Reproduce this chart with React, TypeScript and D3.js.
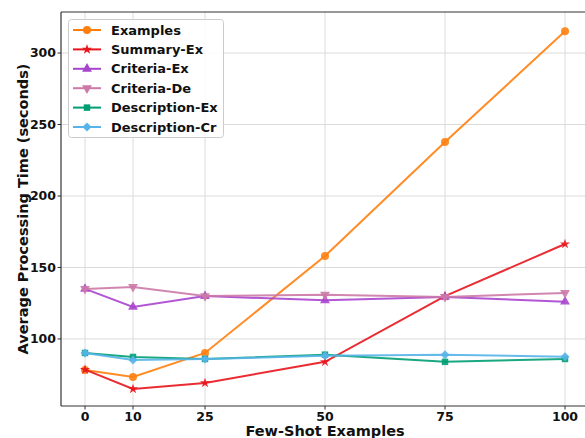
import React, { useEffect, useRef } from 'react';
import * as d3 from 'd3';

const shots = [0, 10, 25, 50, 75, 100];
const yTicks = [100, 150, 200, 250, 300];

const examples = [78.3, 73.4, 90.2, 158, 237.8, 315.2];
const summaryEx = [78.5, 65, 69.2, 84, 130, 166.4];
const criteriaEx = [135, 122.4, 130, 127, 129.4, 126];
const criteriaDe = [135, 136.4, 130, 131, 129.4, 132.2];
const descriptionEx = [90.2, 87.4, 86, 89, 84, 86];
const descriptionCr = [90.2, 85.3, 86, 88.2, 88.9, 87.6];

const seriesNames = ['Examples', 'Summary-Ex', 'Criteria-Ex', 'Criteria-De', 'Description-Ex', 'Description-Cr'];
const seriesValues = [examples, summaryEx, criteriaEx, criteriaDe, descriptionEx, descriptionCr];
const colors = ['#ff7f0e', '#e8141c', '#a845cf', '#cc79a7', '#009e73', '#56b4e9'];
const markers = ['circle', 'star', 'triUp', 'triDown', 'square', 'diamond'];

const W = 585;
const H = 438;

// marker shapes roughly matching matplotlib's o * ^ v s D
const markerSymbol = (m: string) => {
  switch (m) {
    case 'star': return d3.symbol(d3.symbolStar, 32)();
    case 'square': return d3.symbol(d3.symbolSquare, 42)();
    case 'diamond': return d3.symbol(d3.symbolSquare, 40)();
    case 'triUp': return d3.symbol(d3.symbolTriangle, 42)();
    case 'triDown': return d3.symbol(d3.symbolTriangle, 42)();
    default: return d3.symbol(d3.symbolCircle, 50)();
  }
};
const markerRot = (m: string) => (m === 'triDown' ? 180 : m === 'diamond' ? 45 : 0);

const App: React.FC = () => {
  const svgRef = useRef<SVGSVGElement>(null);

  useEffect(() => {
    if (!svgRef.current) return;
    const svg = d3.select(svgRef.current);
    svg.selectAll('*').remove();

    const left = 61, right = 589, top = 12, bottom = 406;
    const x = d3.scaleLinear().domain([-5, 105]).range([left, right]);
    const y = d3.scaleLinear().domain([53.1, 328.7]).range([bottom, top]);
    const font = "'DejaVu Sans', sans-serif";

    svg.append('rect').attr('width', W).attr('height', H).attr('fill', '#fff');

    // grid
    const grid = svg.append('g');
    shots.forEach(s => {
      grid.append('line').attr('x1', x(s)).attr('x2', x(s)).attr('y1', top).attr('y2', bottom)
        .attr('stroke', '#dcdcdc').attr('stroke-width', 1);
    });
    yTicks.forEach(t => {
      grid.append('line').attr('x1', left).attr('x2', right).attr('y1', y(t)).attr('y2', y(t))
        .attr('stroke', '#dcdcdc').attr('stroke-width', 1);
    });

    // spines
    const spine = (x1: number, y1: number, x2: number, y2: number) =>
      svg.append('line').attr('x1', x1).attr('x2', x2).attr('y1', y1).attr('y2', y2)
        .attr('stroke', '#333').attr('stroke-width', 1.2);
    spine(left, top, left, bottom);
    spine(left, bottom, right, bottom);
    spine(left, top, right, top);
    spine(right, top, right, bottom);

    // ticks
    shots.forEach(s => {
      svg.append('line').attr('x1', x(s)).attr('x2', x(s)).attr('y1', bottom).attr('y2', bottom + 3.5)
        .attr('stroke', '#333');
      svg.append('text').attr('x', x(s)).attr('y', bottom + 14.5).attr('text-anchor', 'middle')
        .attr('font-family', font).attr('font-weight', 'bold').attr('font-size', 12.5)
        .attr('fill', '#111').text(s);
    });
    yTicks.forEach(t => {
      svg.append('line').attr('x1', left - 3.5).attr('x2', left).attr('y1', y(t)).attr('y2', y(t))
        .attr('stroke', '#333');
      svg.append('text').attr('x', left - 5).attr('y', y(t)).attr('dy', '0.35em').attr('text-anchor', 'end')
        .attr('font-family', font).attr('font-weight', 'bold').attr('font-size', 12.5)
        .attr('fill', '#111').text(t);
    });

    svg.append('text').attr('x', (left + right) / 2).attr('y', 436).attr('text-anchor', 'middle')
      .attr('font-family', font).attr('font-weight', 'bold').attr('font-size', 14.5)
      .attr('fill', '#111').text('Few-Shot Examples');
    svg.append('text').attr('transform', `translate(28,${(top + bottom) / 2}) rotate(-90)`)
      .attr('text-anchor', 'middle')
      .attr('font-family', font).attr('font-weight', 'bold').attr('font-size', 14.5)
      .attr('fill', '#111').text('Average Processing Time (seconds)');

    const line = d3.line<number>().x((_, i) => x(shots[i])).y(d => y(d));
    const plot = svg.append('g');

    seriesValues.forEach((vals, si) => {
      const g = plot.append('g');
      g.append('path').attr('d', line(vals)).attr('fill', 'none').attr('stroke', colors[si])
        .attr('stroke-width', 2).attr('stroke-opacity', 0.9);
      vals.forEach((v, i) => {
        g.append('path').attr('d', markerSymbol(markers[si]))
          .attr('transform', `translate(${x(shots[i])},${y(v)}) rotate(${markerRot(markers[si])})`)
          .attr('fill', colors[si]).attr('fill-opacity', 0.9);
      });
    });

    // legend
    const lg = svg.append('g');
    lg.append('rect').attr('x', 68.5).attr('y', 19.5).attr('width', 155).attr('height', 118).attr('rx', 3)
      .attr('fill', '#fff').attr('fill-opacity', 0.85).attr('stroke', '#ccc');
    seriesNames.forEach((name, i) => {
      const cy = 30 + i * 19.4;
      lg.append('line').attr('x1', 73).attr('x2', 101).attr('y1', cy).attr('y2', cy)
        .attr('stroke', colors[i]).attr('stroke-width', 2);
      lg.append('path').attr('d', markerSymbol(markers[i]))
        .attr('transform', `translate(87,${cy}) rotate(${markerRot(markers[i])})`).attr('fill', colors[i]);
      lg.append('text').attr('x', 111).attr('y', cy).attr('dy', '0.35em')
        .attr('font-family', font).attr('font-weight', 'bold').attr('font-size', 13)
        .attr('fill', '#111').text(name);
    });
  }, []);

  return <svg ref={svgRef} width={W} height={H} style={{ display: 'block', position: 'absolute', left: 0, top: 0 }} />;
};

export default App;
